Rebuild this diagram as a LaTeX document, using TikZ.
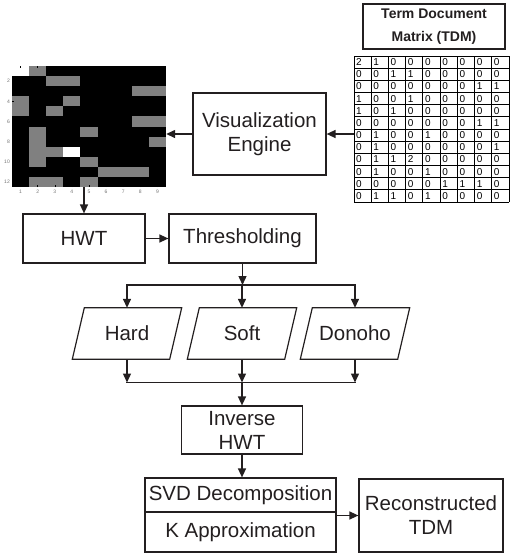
\documentclass[tikz,border=0pt]{standalone}
\usepackage{fontspec}
\setmainfont{Liberation Sans}
\usetikzlibrary{arrows.meta,calc}
\definecolor{ink}{HTML}{231F20}
\definecolor{hm0}{gray}{0}
\definecolor{hm1}{gray}{0.5}
\definecolor{hm2}{gray}{1}
% term-document matrix: 12 terms x 9 documents
\newcommand\tdmdata{{2,1,0,0,0,0,0,0,0},{0,0,1,1,0,0,0,0,0},{0,0,0,0,0,0,0,1,1},{1,0,0,1,0,0,0,0,0},{1,0,1,0,0,0,0,0,0},{0,0,0,0,0,0,0,1,1},{0,1,0,0,1,0,0,0,0},{0,1,0,0,0,0,0,0,1},{0,1,1,2,0,0,0,0,0},{0,1,0,0,1,0,0,0,0},{0,0,0,0,0,1,1,1,0},{0,1,1,0,1,0,0,0,0}}
\begin{document}
\begin{tikzpicture}[x=1pt,y=-1pt,
  box/.style={draw=ink, line width=1.2pt, inner sep=0pt, align=center,
              font=\fontsize{20.5}{24}\selectfont, text=ink},
  arr/.style={draw=ink, line width=1.4pt, -{Triangle[length=9pt,width=8pt]}},
  link/.style={draw=ink, line width=1.4pt, line cap=rect},
  para/.style={draw=ink, line width=1.2pt, line join=miter},
  ptext/.style={inner sep=0pt, minimum width=97pt, minimum height=51pt,
                font=\fontsize{20.5}{24}\selectfont, text=ink},
  cellnum/.style={anchor=west, inner sep=0pt, font=\fontsize{10}{10}\selectfont},
  axlabel/.style={font=\fontsize{5}{5}\selectfont, text=black!55, inner sep=0pt}
]
\useasboundingbox (0,0) rectangle (512,554);

% ---- heat map of the matrix ----
\node[fill=black, inner sep=0pt, minimum width=154pt, minimum height=121pt] (heat) at (89,126.5) {};
\foreach \rowvals [count=\r] in \tdmdata {
  \foreach \v [count=\c] in \rowvals {
    \fill[fill=hm\v] ({12+(\c-1)*154/9},{66+(\r-1)*121/12}) rectangle ++(154/9,121/12);
  }
}
\foreach \c in {1,...,9} {
  \draw[black, line width=0.4pt] ({12+(\c-0.5)*154/9},66) -- ++(0,2);
  \draw[black, line width=0.4pt] ({12+(\c-0.5)*154/9},187) -- ++(0,-2);
  \node[axlabel] (xl\c) at ({12+(\c-0.5)*154/9},192) {\c};
}
\foreach \r in {2,4,...,12} {
  \draw[black, line width=0.4pt] (12,{66+(\r-0.5)*121/12}) -- ++(2,0);
  \node[axlabel, anchor=east] (yl\r) at (10,{66+(\r-0.5)*121/12}) {\r};
}

% ---- term-document matrix table ----
\node[box, minimum width=142pt, minimum height=45pt,
      font=\bfseries\fontsize{14}{23}\selectfont] (title) at (434,26.5) {Term Document\\Matrix (TDM)};
\node[inner sep=0pt, minimum width=155pt, minimum height=146pt] (tdm) at (431.5,129) {};
\foreach \i in {0,...,9}
  \draw[black, line width=0.8pt] ({354+\i*155/9},56) -- ++(0,146);
\foreach \j in {0,...,12}
  \draw[black, line width=0.8pt] (354,{56+\j*146/12}) -- ++(155,0);
\foreach \rowvals [count=\r] in \tdmdata {
  \foreach \v [count=\c] in \rowvals {
    \node[cellnum] (cell-\r-\c) at ({354+(\c-1)*155/9+2},{56+(\r-0.5)*146/12}) {\v};
  }
}

% ---- process boxes ----
\node[box, minimum width=133pt, minimum height=82pt] (ve) at (259.5,134) {Visualization\\Engine};
\node[box, minimum width=122pt, minimum height=49pt] (hwt) at (84,238.5) {HWT};
\node[box, minimum width=147pt, minimum height=49pt] (thr) at (242.5,238.5) {Thresholding};

\node[ptext] (hard) at (127,333.5) {Hard};
\node[ptext] (soft) at (242,333.5) {Soft};
\node[ptext] (donoho) at (355,333.5) {Donoho};
\foreach \n in {hard,soft,donoho}
  \draw[para] ($(\n.south west)+(-6,0)$) -- ($(\n.south east)+(-6,0)$)
     -- ($(\n.north east)+(6,0)$) -- ($(\n.north west)+(6,0)$) -- cycle;

\node[box, minimum width=121pt, minimum height=48pt] (inv) at (242,430) {Inverse\\HWT};
\node[box, minimum width=191pt, minimum height=34pt] (svd) at (240.5,495) {SVD Decomposition};
\node[box, minimum width=191pt, minimum height=40pt] (kapp) at (240.5,532) {K Approximation};
\node[box, minimum width=144pt, minimum height=73pt] (rec) at (431,515.5) {Reconstructed\\TDM};

% ---- connectors ----
\draw[arr] (tdm.west |- ve.east) -- (ve.east);
\draw[arr] (ve.west) -- (heat.east |- ve.west);
\draw[arr] (heat.south -| hwt.north) -- (hwt.north);
\draw[arr] (hwt.east) -- (thr.west);

\coordinate (split) at (242.5,285);
\draw[arr] (thr.south) -- (split);
\draw[link] (hard.north |- split) -- (donoho.north |- split);
\foreach \n in {hard,soft,donoho}
  \draw[arr] (\n.north |- split) -- (\n.north);

\coordinate (merge) at (242,382.5);
\foreach \n in {hard,soft,donoho}
  \draw[arr] (\n.south) -- (\n.south |- merge);
\draw[link] (hard.south |- merge) -- (donoho.south |- merge);
\draw[arr] (merge) -- (inv.north);
\draw[arr] (inv.south) -- (inv.south |- svd.north);
\draw[arr] (kapp.east |- rec.west) -- (rec.west);
\end{tikzpicture}
\end{document}
